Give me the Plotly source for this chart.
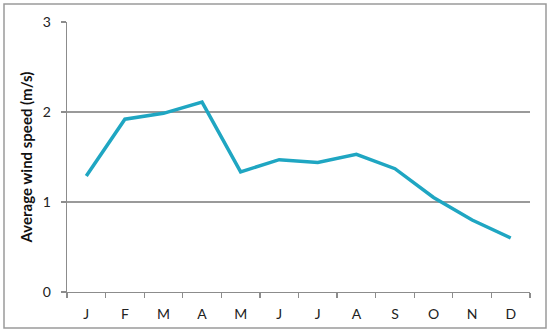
import plotly.graph_objects as go

months = ["J", "F", "M", "A", "M", "J", "J", "A", "S", "O", "N", "D"]
wind_speed = [1.29, 1.92, 1.985, 2.11, 1.335, 1.47, 1.44, 1.53, 1.37, 1.05, 0.80, 0.60]
y_ticks = [0, 1, 2, 3]
y_title = "Average wind speed (m/s)"

x = list(range(len(months)))

L, R, T, B = 67, 20, 22, 42
W, H = 550, 334
pw = W - L - R
ph = H - T - B

fig = go.Figure()
fig.add_trace(go.Scatter(
    x=x, y=wind_speed, mode="lines",
    line=dict(color="#1FA6C2", width=3.5),
    hoverinfo="skip", showlegend=False,
))

font = dict(family="Lato, Carlito, Liberation Sans, sans-serif", size=14, color="#222")

fig.update_layout(
    width=W, height=H,
    margin=dict(l=L, r=R, t=T, b=B, autoexpand=False),
    paper_bgcolor="white", plot_bgcolor="white",
    font=font,
    xaxis=dict(
        range=[-0.5, len(months) - 0.5],
        tickmode="array", tickvals=x, ticktext=months,
        ticks="", showgrid=False, zeroline=False,
        ticklabelstandoff=9,
        showline=True, linecolor="#8c8c8c", linewidth=1.3,
        minor=dict(tickmode="array", tickvals=[i - 0.5 for i in range(len(months) + 1)],
                   ticks="outside", ticklen=5, tickcolor="#8c8c8c", tickwidth=1.3,
                   showgrid=False),
        tickfont=font, fixedrange=True, automargin=False,
    ),
    yaxis=dict(
        range=[0, 3], tickmode="array", tickvals=y_ticks,
        ticks="outside", ticklen=5, tickcolor="#8c8c8c", tickwidth=1.3,
        ticklabelstandoff=7,
        showgrid=True, gridcolor="#9a9a9a", gridwidth=1.5,
        zeroline=False, showline=True, linecolor="#8c8c8c", linewidth=1.3,
        title=dict(text="<b>" + y_title + "</b>", standoff=6,
                   font=dict(family="Lato, Carlito, Liberation Sans, sans-serif", size=15, color="#111")),
        tickfont=font, fixedrange=True, automargin=False,
    ),
    shapes=[dict(
        type="rect", xref="paper", yref="paper",
        x0=(4 - L) / pw, x1=(546 - L) / pw,
        y0=(T + ph - 328) / ph, y1=(T + ph - 4) / ph,
        line=dict(color="#9a9a9a", width=1.5), layer="below",
    )],
)

fig.write_html("out.html", config={"displayModeBar": False, "staticPlot": True},
               post_script="document.body.style.margin='0';document.body.style.overflow='hidden';")
